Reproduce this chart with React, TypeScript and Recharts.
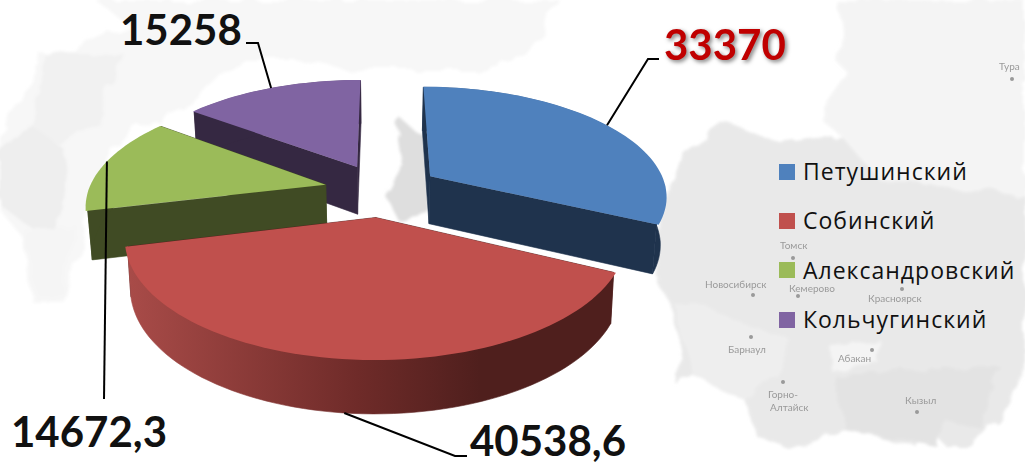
import React from 'react';
import { PieChart, Pie, Legend } from 'recharts';

const districts = ['Петушинский', 'Собинский', 'Александровский', 'Кольчугинский'];
const volumes = [33370, 40538.6, 14672.3, 15258];
const topColors = ['#4f81bd', '#c0504d', '#9bbb59', '#8064a2'];
const wallColors = ['#1f334d', '#4f1f1d', '#404b24', '#352842'];

// pie is drawn counter-clockwise from the back so the nearer slices paint last
const pieData = districts
    .map((name, i) => ({ name, value: volumes[i], fill: topColors[i], wall: wallColors[i] }))
    .reverse();

const W = 1025;
const H = 465;
const CX = 382;
const CY = 190;
const RADIUS = 237;
const EXPLODE = 58;
const SQUASH = 0.458;
const PERSPECTIVE = 0.0007;
const DEPTH = 48;
const BOTTOM_SCALE = 0.978;
const RAD = Math.PI / 180;

const project = (u: number, v: number, bottom = false) => {
    const w = 1 - PERSPECTIVE * v;
    const s = bottom ? BOTTOM_SCALE : 1;
    return {
        x: CX + (u * s) / w,
        y: CY + (SQUASH * v) / w + (bottom ? DEPTH / Math.sqrt(w) : 0)
    };
};

const toPath = (pts: { x: number; y: number }[]) =>
    pts.map((p, i) => `${i ? 'L' : 'M'}${p.x.toFixed(1)} ${p.y.toFixed(1)}`).join(' ') + ' Z';

function Slice(props: any) {
    const { startAngle, endAngle, midAngle, outerRadius, fill, payload } = props;
    const mid = midAngle ?? (startAngle + endAngle) / 2;
    const du = EXPLODE * Math.cos(mid * RAD);
    const dv = -EXPLODE * Math.sin(mid * RAD);
    const rim = (a: number, bottom = false, r = outerRadius) =>
        project(du + r * Math.cos(a * RAD), dv - r * Math.sin(a * RAD), bottom);
    const apex = (bottom = false) => project(du, dv, bottom);

    const angles: number[] = [];
    for (let a = startAngle; a < endAngle; a += 2) angles.push(a);
    angles.push(endAngle);

    const topRim = angles.map(a => rim(a));
    const innerRim = angles.map(a => rim(a, false, outerRadius - 2));
    const bottomRim = angles.map(a => rim(a, true));
    const wall = payload?.wall ?? props.wall;
    const isRed = fill === topColors[1];
    const rimFill = isRed ? 'url(#rimShade)' : wall;

    return (
        <g>
            {isRed && (
                <defs>
                    <linearGradient id="rimShade" gradientUnits="userSpaceOnUse" x1="130" y1="0" x2="480" y2="0">
                        <stop offset="0" stopColor="#a84b48" />
                        <stop offset="0.65" stopColor="#6f2b29" />
                        <stop offset="1" stopColor={wall} />
                    </linearGradient>
                </defs>
            )}
            <path d={toPath([apex(), innerRim[0], bottomRim[0], apex(true)])} fill={wall} stroke={wall} strokeWidth={0.6} />
            <path
                d={toPath([apex(), innerRim[innerRim.length - 1], bottomRim[bottomRim.length - 1], apex(true)])}
                fill={wall}
                stroke={wall}
                strokeWidth={0.6}
            />
            <path d={toPath([...innerRim, ...bottomRim.slice().reverse()])} fill={rimFill} stroke={rimFill} strokeWidth={0.6} />
            <path d={toPath([apex(), ...topRim])} fill={fill} />
        </g>
    );
}

// leader elbow and text box for each slice, in the order of districts
const labelLayout = [
    { elbow: [[648, 59], [659, 59]], x: 664, y: 60, color: '#c00000', shadow: true, turn: 0 },
    { elbow: [[455, 456], [467, 456]], x: 470, y: 456, color: '#111', shadow: false, turn: 0 },
    { elbow: [[104, 399]], x: 11, y: 447, color: '#111', shadow: false, turn: -1.4 },
    { elbow: [[258, 43], [246, 43]], x: 120, y: 45, color: '#111', shadow: false, turn: 0 }
];

function SliceLabel(props: any) {
    const { midAngle, name, value, outerRadius } = props;
    const idx = districts.indexOf(name);
    const layout = labelLayout[idx];
    const du = EXPLODE * Math.cos(midAngle * RAD);
    const dv = -EXPLODE * Math.sin(midAngle * RAD);
    const a = (midAngle + layout.turn) * RAD;
    const u = du + outerRadius * Math.cos(a);
    const v = dv - outerRadius * Math.sin(a);
    const start = project(u, v, v > 100);
    const pts = [[start.x, start.y], ...layout.elbow].map(p => p.join(',')).join(' ');
    return (
        <g>
            <polyline points={pts} fill="none" stroke="#000" strokeWidth={2} />
            <text
                x={layout.x}
                y={layout.y}
                fill={layout.color}
                fontFamily="Lato, sans-serif"
                fontWeight={700}
                fontSize={42}
                style={layout.shadow ? { filter: 'drop-shadow(2px 2px 2px rgba(0,0,0,0.5))' } : undefined}
            >
                {String(value).replace('.', ',')}
            </text>
        </g>
    );
}

function LegendList({ payload }: any) {
    const items = (payload ?? [])
        .slice()
        .sort((a: any, b: any) => districts.indexOf(a.value) - districts.indexOf(b.value));
    return (
        <div>
            {items.map((item: any) => (
                <div key={item.value} style={{ display: 'flex', alignItems: 'center', height: 49.3 }}>
                    <span style={{ width: 16, height: 16, background: item.color, marginRight: 8, flex: 'none' }} />
                    <span style={{ fontFamily: '"Open Sans", sans-serif', fontSize: 23, lineHeight: 1, fontWeight: 500, color: '#111', letterSpacing: 1, whiteSpace: 'nowrap' }}>
                        {item.value}
                    </span>
                </div>
            ))}
        </div>
    );
}

const mapCities = [
    { name: 'Тура', x: 999, y: 70 },
    { name: 'Томск', x: 780, y: 249 },
    { name: 'Новосибирск', x: 705, y: 288 },
    { name: 'Кемерово', x: 789, y: 292 },
    { name: 'Красноярск', x: 868, y: 302 },
    { name: 'Барнаул', x: 728, y: 353 },
    { name: 'Абакан', x: 838, y: 362 },
    { name: 'Горно-', x: 768, y: 398 },
    { name: 'Алтайск', x: 770, y: 411 },
    { name: 'Кызыл', x: 905, y: 404 }
];

const cityDots = [[1012, 79], [793, 258], [753, 295], [798, 296], [902, 289], [751, 337], [872, 350], [783, 382], [917, 412]];

function MapBackdrop() {
    return (
        <svg width={W} height={H} style={{ position: 'absolute', left: 0, top: 0 }}>
            <defs>
                <filter id="rough" x="-5%" y="-5%" width="110%" height="110%">
                    <feTurbulence type="fractalNoise" baseFrequency="0.035" numOctaves="3" seed="4" result="n" />
                    <feDisplacementMap in="SourceGraphic" in2="n" scale="16" />
                    <feGaussianBlur stdDeviation="1.6" />
                </filter>
                <filter id="softer"><feGaussianBlur stdDeviation="0.6" /></filter>
            </defs>
            <rect width={W} height={H} fill="#fff" />
            <g filter="url(#rough)">
                <path d="M0 135 L30 90 L35 50 L75 55 L95 40 L130 25 L95 0 L560 0 L540 40 L500 70 L440 70 L360 70 L300 60 L240 60 L200 100 L130 130 L90 180 L80 260 L60 300 L30 300 L25 240 L0 210 Z" fill="#f7f7f7" />
                <path d="M40 50 L75 55 L125 55 L110 90 L95 125 L60 145 L30 130 L38 90 Z" fill="#f1f1f1" />
                <path d="M0 150 L30 125 L65 150 L70 190 L50 240 L20 220 L0 205 Z" fill="#eeeeee" />
                <path d="M25 230 L75 225 L60 295 L35 295 Z" fill="#f5f5f5" />
                <path d="M400 118 L412 128 L425 135 L430 215 L398 220 L386 197 L402 165 L398 140 Z" fill="#dedede" />
                <path d="M835 0 L1025 0 L1025 245 L850 210 L780 145 L840 135 L820 118 L850 75 L835 60 L850 40 Z" fill="#f4f4f4" />
                <path d="M673 165 L687 150 L727 122 L780 143 L840 135 L880 180 L1025 195 L1025 370 L1000 420 L975 445 L945 445 L930 430 L915 445 L845 430 L790 450 L760 440 L745 400 L695 375 L675 385 L680 340 L665 295 L655 280 L660 220 Z" fill="#e9e9e9" />
                <path d="M670 300 L710 310 L790 340 L775 375 L745 400 L695 378 Z" fill="#eeeeee" />
                <path d="M830 345 L880 340 L880 365 L830 370 Z" fill="#f4f4f4" />
                <path d="M835 375 L1000 365 L985 430 L945 420 L935 445 L845 430 Z" fill="#e3e3e3" />
            </g>
            <g filter="url(#softer)" fill="#9a9a9a" fontFamily="Lato, sans-serif" fontSize={10}>
                {mapCities.map(c => (
                    <text key={c.name} x={c.x} y={c.y}>{c.name}</text>
                ))}
                {cityDots.map(d => (
                    <circle key={d.join()} cx={d[0]} cy={d[1]} r={2} />
                ))}
            </g>
        </svg>
    );
}

export default function App(): JSX.Element {
    return (
        <div style={{ position: 'absolute', left: 0, top: 0, width: W, height: H, overflow: 'hidden' }}>
            <MapBackdrop />
            <div style={{ position: 'absolute', left: 0, top: 0 }}>
                <PieChart width={W} height={H} margin={{ top: 0, right: 0, bottom: 0, left: 0 }}>
                    <Pie
                        data={pieData}
                        dataKey="value"
                        nameKey="name"
                        cx={CX}
                        cy={CY}
                        innerRadius={0}
                        outerRadius={RADIUS}
                        startAngle={90}
                        endAngle={450}
                        stroke="none"
                        shape={Slice}
                        label={SliceLabel}
                        labelLine={false}
                        isAnimationActive={false}
                    />
                    <Legend
                        layout="vertical"
                        align="left"
                        verticalAlign="top"
                        content={<LegendList />}
                        wrapperStyle={{ left: 779, top: 147, width: 246 }}
                    />
                </PieChart>
            </div>
        </div>
    );
}
